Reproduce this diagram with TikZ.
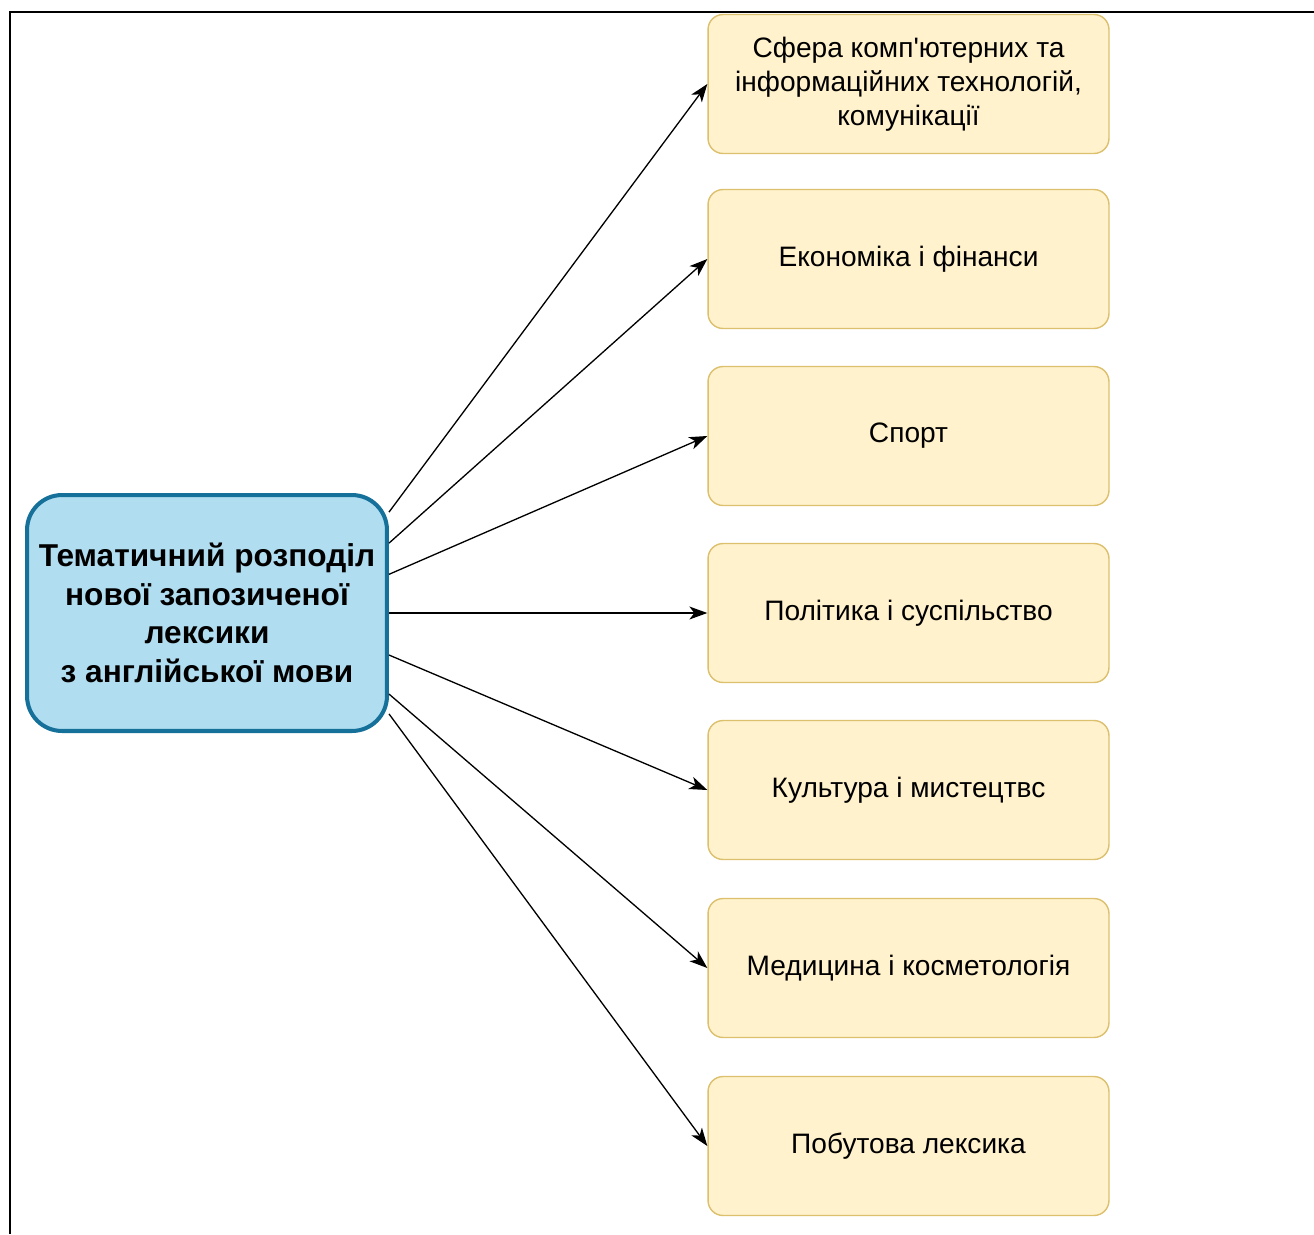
\documentclass[tikz,border=0pt]{standalone}
\usepackage{fontspec}
\setmainfont{Liberation Sans}[Ligatures=TeXOff]
\usetikzlibrary{arrows.meta}
\definecolor{topicfill}{HTML}{FFF2CC}
\definecolor{topicline}{HTML}{DCC06E}
\definecolor{mainfill}{HTML}{B1DDF0}
\definecolor{mainline}{HTML}{15709A}

\begin{document}
\begin{tikzpicture}[x=0.02cm,y=-0.02cm,
  topic/.style={draw=topicline, line width=0.8pt, fill=topicfill, rounded corners=0.3cm,
    minimum width=8.02cm, minimum height=2.78cm, inner sep=0pt, align=center,
    font=\fontsize{16}{19.3}\selectfont},
  theme/.style={draw=mainline, line width=2.3pt, fill=mainfill, rounded corners=0.7cm,
    minimum width=7.2cm, minimum height=4.72cm, inner sep=0pt, align=center,
    font=\fontsize{18}{22}\selectfont\bfseries},
  link/.style={-{Stealth[length=0.36cm,width=0.26cm,inset=0.1cm]}, line width=0.75pt}]
	\useasboundingbox (0,0) rectangle (1314,1234);
	\draw[line width=1.6pt] (1314,12) -- (10,12) -- (10,1234);
	
	\node[theme] (main) at (207,613) {Тематичний розподіл\\нової запозиченої\\лексики\\з англійської мови};
	
	\node[topic] (it) at (908.5,84) {Сфера комп'ютерних та\\інформаційних технологій,\\комунікації};
	\node[topic] (econ) at (908.5,259) {Економіка і фінанси};
	\node[topic] (sport) at (908.5,436) {Спорт};
	\node[topic] (polit) at (908.5,613) {Політика і суспільство};
	\node[topic] (cult) at (908.5,790) {Культура і мистецтвс};
	\node[topic] (med) at (908.5,968) {Медицина і косметологія};
	\node[topic] (daily) at (908.5,1146) {Побутова лексика};
	
	\draw[link] (main.29) -- (it.west);
	\draw[link] (main.21) -- (econ.west);
	\draw[link] (main.12) -- (sport.west);
	\draw[link] (main.east) -- (polit.west);
	\draw[link] (main.-13) -- (cult.west);
	\draw[link] (main.-24) -- (med.west);
	\draw[link] (main.-29) -- (daily.west);
\end{tikzpicture}
\end{document}
